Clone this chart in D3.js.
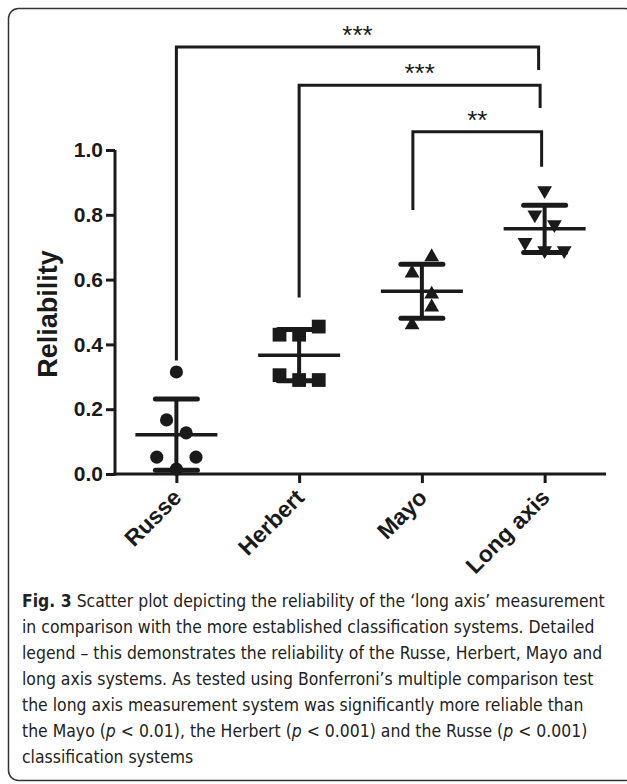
<!DOCTYPE html>
<html>
<head>
<meta charset="utf-8">
<script src="https://d3js.org/d3.v7.min.js"></script>
<style>
  body { margin: 0; background: #fff; }
  svg { display: block; }
  .axis path, .axis line { stroke: #1a1a1a; stroke-width: 3; }
  .axis text { font-family: "Liberation Sans", Arial, sans-serif; font-weight: bold; font-size: 21px; fill: #1a1a1a; }
  .axis.x text { font-size: 23px; }
</style>
</head>
<body>
<svg></svg>
<script>
/* data */
var categories = ['Russe', 'Herbert', 'Mayo', 'Long axis'];
var russe = [0.315, 0.167, 0.127, 0.052, 0.052, 0.015];
var herbert = [0.455, 0.43, 0.43, 0.305, 0.29, 0.29];
var mayo = [0.67, 0.62, 0.555, 0.515, 0.46];
var longAxis = [0.875, 0.80, 0.77, 0.715, 0.69, 0.69];
// horizontal scatter slot of each point (column scatter)
var russeSlots = [0, -1, 1, -2, 2, 0];
var herbertSlots = [2, -2, 0, -2, 0, 2];
var mayoSlots = [1, -1, 1, 1, -1];
var longAxisSlots = [0, -1, 1, -2, 0, 2];
var yTicks = [0, 0.2, 0.4, 0.6, 0.8, 1.0];
// significance brackets: from group, to group, bar level, leg ends, label
var bracketFrom = ['Russe', 'Herbert', 'Mayo'];
var bracketLevel = [1.318, 1.20, 1.056];
var bracketLeftEnd = [0.35, 0.545, 0.815];
var bracketRightEnd = [1.247, 1.13, 0.948];
var bracketLabel = ['***', '***', '**'];
var captionLines = [
  "Scatter plot depicting the reliability of the \u2018long axis\u2019 measurement",
  "in comparison with the more established classification systems. Detailed",
  "legend \u2013 this demonstrates the reliability of the Russe, Herbert, Mayo and",
  "long axis systems. As tested using Bonferroni\u2019s multiple comparison test",
  "the long axis measurement system was significantly more reliable than",
  "the Mayo (|p| < 0.01), the Herbert (|p| < 0.001) and the Russe (|p| < 0.001)",
  "classification systems"
];

var groups = [
  {name: 'Russe', values: russe, slots: russeSlots, symbol: d3.symbolCircle, size: 135, rot: 0},
  {name: 'Herbert', values: herbert, slots: herbertSlots, symbol: d3.symbolSquare, size: 190, rot: 0},
  {name: 'Mayo', values: mayo, slots: mayoSlots, symbol: d3.symbolTriangle, size: 95, rot: 0},
  {name: 'Long axis', values: longAxis, slots: longAxisSlots, symbol: d3.symbolTriangle, size: 95, rot: 180}
];

var svgWidth = 627, svgHeight = 784;
var ink = '#1a1a1a';

var svg = d3.select('svg')
    .attr('width', svgWidth)
    .attr('height', svgHeight);

// outer frame
svg.append('rect')
    .attr('x', 8.5).attr('y', 8.5)
    .attr('width', 626).attr('height', 772)
    .attr('rx', 10)
    .attr('fill', 'none')
    .attr('stroke', '#333')
    .attr('stroke-width', 1.5);

var scale = {};
scale.x = d3.scalePoint().domain(categories).range([115, 606]).padding(0.5);
scale.y = d3.scaleLinear().domain([0, 1]).range([474, 150]);

/* axes */
svg.append('g')
    .attr('class', 'axis y')
    .attr('transform', translate(115, 0))
    .call(d3.axisLeft(scale.y).tickValues(yTicks).tickFormat(d3.format('.1f')).tickSize(9).tickPadding(3).tickSizeOuter(0))
    .call(function(g){ g.select('.domain').attr('d', 'M0,' + (scale.y(0) + 1.5) + 'V' + scale.y(1)); });

var xAxis = svg.append('g')
    .attr('class', 'axis x')
    .attr('transform', translate(0, 474))
    .call(d3.axisBottom(scale.x).tickSize(9).tickSizeOuter(0));
xAxis.select('.domain').attr('d', 'M113.5,0H606');
xAxis.selectAll('text')
    .attr('text-anchor', 'end')
    .attr('dy', null)
    .attr('y', 0)
    .attr('transform', 'translate(6,25) rotate(-45)');

svg.append('text')
    .attr('transform', translate(57, 314) + ' rotate(-90)')
    .attr('text-anchor', 'middle')
    .style('font-family', '"Liberation Sans", Arial, sans-serif')
    .style('font-weight', 'bold')
    .style('font-size', '27px')
    .attr('fill', ink)
    .text('Reliability');

/* points, mean and SD */
var slotWidth = 9.8;
groups.forEach(function(g){
  var cx = scale.x(g.name);
  var gp = svg.append('g');
  var sym = d3.symbol().type(g.symbol).size(g.size);
  gp.selectAll('path.pt')
      .data(g.values)
      .enter()
      .append('path')
      .attr('class', 'pt')
      .attr('d', sym)
      .attr('fill', ink)
      .attr('transform', function(d, i){
        return translate(cx + g.slots[i] * slotWidth, scale.y(d)) + ' rotate(' + g.rot + ')';
      });

  var m = d3.mean(g.values);
  var sd = d3.deviation(g.values);
  gp.append('line')
      .attr('x1', cx).attr('x2', cx)
      .attr('y1', scale.y(m - sd)).attr('y2', scale.y(m + sd))
      .attr('stroke', ink).attr('stroke-width', 4);
  [m - sd, m + sd].forEach(function(v){
    gp.append('line')
        .attr('x1', cx - 21).attr('x2', cx + 21)
        .attr('y1', scale.y(v)).attr('y2', scale.y(v))
        .attr('stroke', ink).attr('stroke-width', 5)
        .attr('stroke-linecap', 'round');
  });
  gp.append('line')
      .attr('x1', cx - 41).attr('x2', cx + 41)
      .attr('y1', scale.y(m)).attr('y2', scale.y(m))
      .attr('stroke', ink).attr('stroke-width', 3.5);
});

/* significance brackets */
bracketFrom.forEach(function(name, i){
  var x1 = scale.x(name) - (name === 'Mayo' ? 9 : 0);
  var x2 = scale.x('Long axis') - 6 + i * 1.5;
  var yb = scale.y(bracketLevel[i]);
  svg.append('path')
      .attr('d', 'M' + x1 + ',' + scale.y(bracketLeftEnd[i]) + 'V' + yb + 'H' + x2 + 'V' + scale.y(bracketRightEnd[i]))
      .attr('fill', 'none')
      .attr('stroke', ink)
      .attr('stroke-width', 3);
  svg.append('text')
      .attr('x', (x1 + x2) / 2)
      .attr('y', yb - 3)
      .attr('text-anchor', 'middle')
      .style('font-family', '"Liberation Sans", Arial, sans-serif')
      .style('font-size', '26px')
      .attr('fill', ink)
      .text(bracketLabel[i]);
});

/* caption */
var cap = svg.append('g')
    .style('font-family', '"Liberation Sans Narrow", "Arial Narrow", "DejaVu Sans Condensed", sans-serif')
    .style('font-size', '18.5px')
    .attr('fill', '#222');
var capText = cap.append('g');
captionLines.forEach(function(line, i){
  var t = capText.append('text')
      .attr('x', 0)
      .attr('y', 607 + i * 26);
  if(i === 0){
    t.append('tspan').style('font-weight', 'bold').text('Fig. 3');
    t.append('tspan').text(' ');
  }
  line.split('|').forEach(function(part, j){
    var s = t.append('tspan').text(part);
    if(j % 2 === 1) s.style('font-style', 'italic');
  });
});
// squeeze caption horizontally to the figure's measure
var firstLen = capText.select('text').node().getComputedTextLength();
var k = 583 / firstLen;
capText.attr('transform', translate(22, 0) + ' scale(' + k + ',1)');

function translate(x, y) {
  return 'translate(' + x + ',' + y + ')';
}
</script>
</body>
</html>
